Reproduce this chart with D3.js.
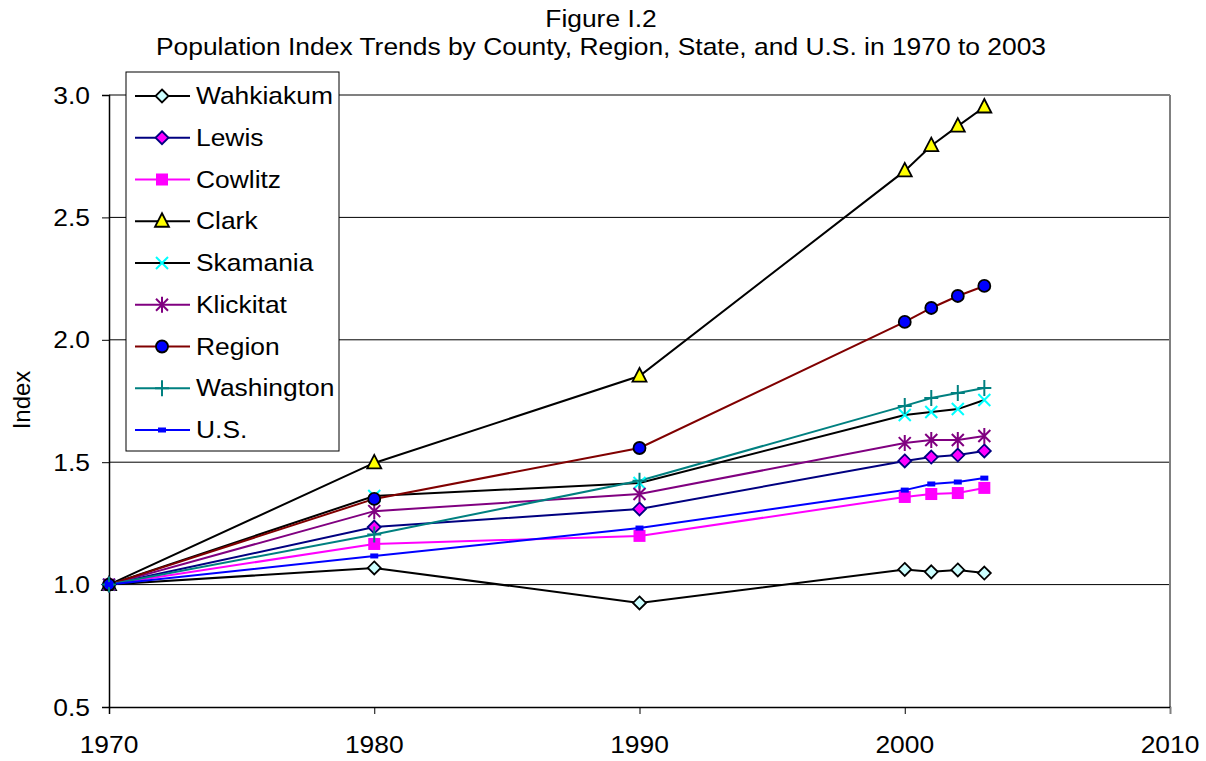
<!DOCTYPE html>
<html>
<head>
<meta charset="utf-8">
<script src="https://cdn.jsdelivr.net/npm/d3@7"></script>
<style>
  body { margin: 0; background: #fff; }
  text { font-family: Arial, "Liberation Sans", sans-serif; fill: #000; font-size: 24px; }
</style>
</head>
<body>
<svg id="chart" width="1206" height="761"></svg>
<script>
const years = [1970, 1980, 1990, 2000, 2001, 2002, 2003];
const xTicks = [1970, 1980, 1990, 2000, 2010];
const yTicks = [0.5, 1.0, 1.5, 2.0, 2.5, 3.0];

const wahkiakum = [1.0, 1.068, 0.925, 1.062, 1.052, 1.060, 1.047];
const lewis = [1.0, 1.235, 1.309, 1.505, 1.521, 1.529, 1.546];
const cowlitz = [1.0, 1.166, 1.199, 1.358, 1.370, 1.374, 1.395];
const clark = [1.0, 1.497, 1.852, 2.690, 2.793, 2.873, 2.951];
const skamania = [1.0, 1.362, 1.415, 1.693, 1.705, 1.717, 1.754];
const klickitat = [1.0, 1.300, 1.370, 1.578, 1.591, 1.591, 1.607];
const region = [1.0, 1.350, 1.558, 2.073, 2.130, 2.179, 2.220];
const washington = [1.0, 1.205, 1.424, 1.730, 1.762, 1.783, 1.803];
const us = [1.0, 1.117, 1.231, 1.386, 1.411, 1.419, 1.435];

const series = [
  { name: "Wahkiakum", values: wahkiakum, line: "#000000", marker: "diamond", fill: "#ccffff", stroke: "#000000" },
  { name: "Lewis", values: lewis, line: "#000080", marker: "diamond", fill: "#ff00ff", stroke: "#000080" },
  { name: "Cowlitz", values: cowlitz, line: "#ff00ff", marker: "square", fill: "#ff00ff", stroke: "#ff00ff" },
  { name: "Clark", values: clark, line: "#000000", marker: "triangle", fill: "#ffff00", stroke: "#000000" },
  { name: "Skamania", values: skamania, line: "#000000", marker: "x", fill: "none", stroke: "#00ffff" },
  { name: "Klickitat", values: klickitat, line: "#800080", marker: "star", fill: "none", stroke: "#800080" },
  { name: "Region", values: region, line: "#800000", marker: "circle", fill: "#0000ff", stroke: "#000000" },
  { name: "Washington", values: washington, line: "#008080", marker: "plus", fill: "none", stroke: "#008080" },
  { name: "U.S.", values: us, line: "#0000ff", marker: "dash", fill: "#0000ff", stroke: "#0000ff" }
];

const svg = d3.select("#chart");
const margin = { left: 109, right: 1170, top: 95, bottom: 707 };
const stretch = 1.1; // text in the original is a little wider than plain Arial

const x = d3.scaleLinear().domain([1970, 2010]).range([margin.left, margin.right]);
const y = d3.scaleLinear().domain([0.5, 3.0]).range([margin.bottom, margin.top]);

function label(g, tx, ty, str, anchor = "start") {
  return g.append("text")
    .attr("transform", `translate(${tx},${ty}) scale(${stretch},1)`)
    .attr("text-anchor", anchor)
    .text(str);
}

// title
label(svg, 601, 27, "Figure I.2", "middle");
label(svg, 601, 55, "Population Index Trends by County, Region, State, and U.S. in 1970 to 2003", "middle");

// gridlines
svg.append("g").selectAll("line").data(yTicks.filter(d => d > 0.5 && d < 3.0)).join("line")
  .attr("x1", margin.left).attr("x2", margin.right)
  .attr("y1", d => y(d)).attr("y2", d => y(d))
  .attr("stroke", "#000").attr("stroke-width", 1);

// plot frame top/right in gray
svg.append("line").attr("x1", margin.left).attr("x2", margin.right)
  .attr("y1", y(3.0)).attr("y2", y(3.0)).attr("stroke", "#808080").attr("stroke-width", 2);
svg.append("line").attr("x1", margin.right).attr("x2", margin.right)
  .attr("y1", y(3.0)).attr("y2", y(0.5)).attr("stroke", "#808080").attr("stroke-width", 2);

// axes (ticks only, labels drawn below)
const yAxis = d3.axisLeft(y).tickValues(yTicks).tickFormat("").tickSize(7);
const yg = svg.append("g").attr("transform", `translate(${margin.left},0)`).call(yAxis);
const xAxis = d3.axisBottom(x).tickValues(xTicks).tickFormat("").tickSize(7);
const xg = svg.append("g").attr("transform", `translate(0,${margin.bottom})`).call(xAxis);
[yg, xg].forEach(g => {
  g.select(".domain").attr("stroke", "#000").attr("stroke-width", 1.5);
  g.selectAll(".tick line").attr("stroke", "#000");
});
xg.select(".tick:last-of-type line").attr("stroke", "#808080");

const fmtY = d3.format(".1f");
yTicks.forEach(t => label(svg, 90, y(t) + 8.5, fmtY(t), "end"));
xTicks.forEach(t => label(svg, x(t), 753, String(t), "middle"));

svg.append("text").attr("transform", "translate(30,400) rotate(-90)")
  .attr("text-anchor", "middle").text("Index");

function drawMarker(g, s, cx, cy) {
  const m = s.marker;
  if (m === "diamond") {
    g.append("path").attr("d", `M${cx},${cy - 6.5}L${cx + 6.5},${cy}L${cx},${cy + 6.5}L${cx - 6.5},${cy}Z`)
      .attr("fill", s.fill).attr("stroke", s.stroke).attr("stroke-width", 1.8);
  } else if (m === "square") {
    g.append("rect").attr("x", cx - 6).attr("y", cy - 6).attr("width", 12).attr("height", 12)
      .attr("fill", s.fill);
  } else if (m === "triangle") {
    g.append("path").attr("d", `M${cx},${cy - 8}L${cx + 7},${cy + 5.5}L${cx - 7},${cy + 5.5}Z`)
      .attr("fill", s.fill).attr("stroke", s.stroke).attr("stroke-width", 1.8);
  } else if (m === "circle") {
    g.append("circle").attr("cx", cx).attr("cy", cy).attr("r", 6)
      .attr("fill", s.fill).attr("stroke", s.stroke).attr("stroke-width", 1.8);
  } else if (m === "x") {
    g.append("path").attr("d", `M${cx - 6},${cy - 6}L${cx + 6},${cy + 6}M${cx - 6},${cy + 6}L${cx + 6},${cy - 6}`)
      .attr("stroke", s.stroke).attr("stroke-width", 2);
  } else if (m === "star") {
    g.append("path").attr("d", `M${cx - 6},${cy - 6}L${cx + 6},${cy + 6}M${cx - 6},${cy + 6}L${cx + 6},${cy - 6}M${cx},${cy - 8}L${cx},${cy + 8}`)
      .attr("stroke", s.stroke).attr("stroke-width", 2);
  } else if (m === "plus") {
    g.append("path").attr("d", `M${cx - 7},${cy}L${cx + 7},${cy}M${cx},${cy - 8}L${cx},${cy + 8}`)
      .attr("stroke", s.stroke).attr("stroke-width", 2);
  } else if (m === "dash") {
    g.append("rect").attr("x", cx - 4).attr("y", cy - 2.5).attr("width", 8).attr("height", 5)
      .attr("fill", s.fill);
  }
}

const line = d3.line().x(d => x(d[0])).y(d => y(d[1]));

// lines first, then markers
const plot = svg.append("g");
series.forEach(s => {
  const pts = years.map((yr, i) => [yr, s.values[i]]);
  plot.append("path").datum(pts).attr("d", line)
    .attr("fill", "none").attr("stroke", s.line).attr("stroke-width", 2);
});
series.forEach(s => {
  const g = plot.append("g");
  years.forEach((yr, i) => drawMarker(g, s, x(yr), y(s.values[i])));
});

// legend
const legend = svg.append("g");
legend.append("rect").attr("x", 126).attr("y", 72).attr("width", 213).attr("height", 379)
  .attr("fill", "#fff").attr("stroke", "#000").attr("stroke-width", 1);
series.forEach((s, i) => {
  const ly = 96 + i * 41.75;
  legend.append("line").attr("x1", 135).attr("x2", 190).attr("y1", ly).attr("y2", ly)
    .attr("stroke", s.line).attr("stroke-width", 2);
  drawMarker(legend.append("g"), s, 162, ly);
  label(legend, 196, ly + 8, s.name);
});
</script>
</body>
</html>
